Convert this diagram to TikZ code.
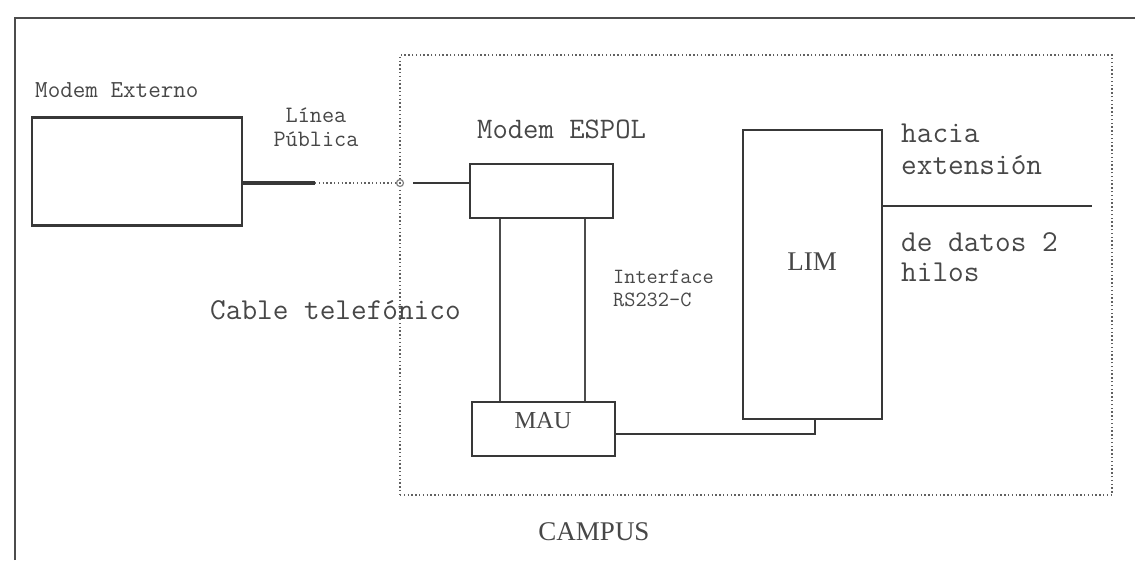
\documentclass[tikz,border=0pt]{standalone}
\usepackage{fontspec}
\setmainfont{Liberation Serif}
\begin{document}
\begin{tikzpicture}[x=1pt,y=-1pt,
  ln/.style={draw=black!78,line width=1.9pt},
  box/.style={draw=black!78,line width=2.5pt,rectangle,inner sep=0pt},
  wire/.style={draw=black!70,line width=1.6pt},
  dots/.style={draw=black!62,line width=1.8pt,dash pattern=on 1.4pt off 2.4pt},
  lbl/.style={text=black!72,inner sep=0pt,font=\ttfamily},
  slbl/.style={text=black!72,inner sep=0pt,font=\rmfamily}]
\useasboundingbox (0,0) rectangle (1135,560);
% outer frame
\coordinate (fbl) at (15,560);
\coordinate (ftl) at (15,18);
\coordinate (ftr) at (1135,18);
\draw[draw=black!70,line width=2.6pt] (fbl) -- (ftl) -- (ftr);
% campus area
\node[dots,rectangle,inner sep=0pt,minimum width=712pt,minimum height=440pt] (campus) at (756,275) {};
% boxes
\node[box,minimum width=210pt,minimum height=108pt] (ext) at (137,171.5) {};
\node[box,minimum width=143pt,minimum height=54pt] (espol) at (541.5,191) {};
\node[box,minimum width=139pt,minimum height=289pt] (lim) at (812.5,274.5) {};
\node[box,minimum width=143pt,minimum height=54pt] (mau) at (543.5,429) {};
% labels
\node[lbl,anchor=west,font=\ttfamily\fontsize{24.4}{27}\selectfont] (tExt) at (35,90) {Modem Externo};
\node[lbl,align=center,font=\ttfamily\fontsize{23.5}{24}\selectfont] (tLinea) at (316,127) {Línea\\Pública};
\node[lbl,anchor=west,font=\ttfamily\fontsize{29.8}{32}\selectfont] (tEspol) at (477,129) {Modem ESPOL};
\node[slbl,font=\rmfamily\fontsize{27}{30}\selectfont] (tLim) at (812,262) {LIM};
\node[lbl,anchor=west,align=left,font=\ttfamily\fontsize{30.4}{32}\selectfont] (tHacia) at (901,149) {hacia\\extensión};
\node[lbl,anchor=west,align=left,font=\ttfamily\fontsize{30.4}{30}\selectfont] (tDatos) at (901,257) {de datos 2\\hilos};
\node[lbl,anchor=west,align=left,font=\ttfamily\fontsize{21.7}{23}\selectfont] (tInt) at (613,288.5) {Interface\\RS232-C};
\node[lbl,anchor=west,font=\ttfamily\fontsize{30.4}{32}\selectfont] (tCable) at (210,310) {Cable telefónico};
\node[slbl,font=\rmfamily\fontsize{24.4}{28}\selectfont] (tMau) at (543,421) {MAU};
\node[slbl,font=\rmfamily\fontsize{27}{30}\selectfont] (tCampus) at (594,532) {CAMPUS};
% connectors
\coordinate (j1) at (315,183);
\coordinate (jc) at (400,183);
\draw[draw=black!78,line width=3.6pt] (ext.east |- j1) -- (j1);
\draw[dots] (j1) -- (jc);
\draw[draw=black!50,line width=1.2pt] (jc) circle (3.5pt);
\coordinate (jc2) at (413,183);
\draw[ln] (jc2) -- (espol.west |- jc);
\coordinate (w1) at (500,300);
\coordinate (w2) at (585,300);
\draw[wire] (espol.south -| w1) -- (mau.north -| w1);
\draw[wire] (espol.south -| w2) -- (mau.north -| w2);
\coordinate (k) at (815,434);
\draw[ln] (mau.east |- k) -- (k) -- (lim.south -| k);
\coordinate (xend) at (1092,206);
\draw[ln] (lim.east |- xend) -- (xend);
\end{tikzpicture}
\end{document}
